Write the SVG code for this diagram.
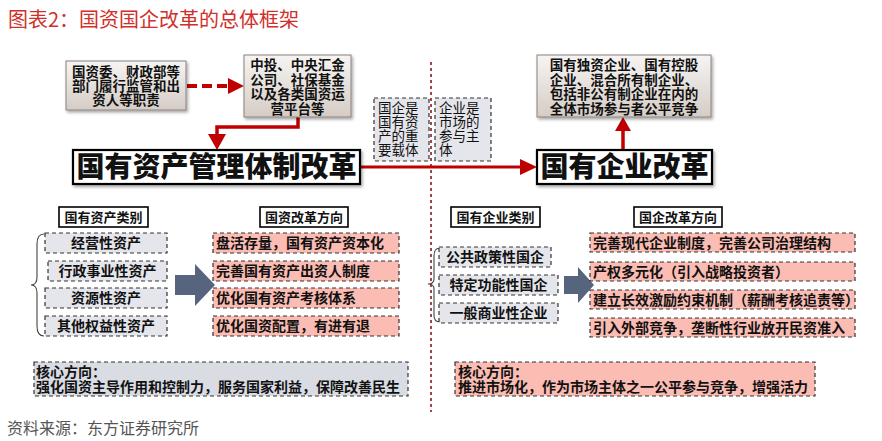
<svg xmlns="http://www.w3.org/2000/svg" width="882" height="441" viewBox="0 0 882 441">
<defs>
<linearGradient id="g" x1="0" y1="0" x2="0" y2="1"><stop offset="0" stop-color="#f6f4f2"/><stop offset="1" stop-color="#d5ccc5"/></linearGradient>
<filter id="sh" x="-10%" y="-10%" width="130%" height="140%"><feDropShadow dx="1.5" dy="2" stdDeviation="1.5" flood-color="#000" flood-opacity="0.35"/></filter>
</defs>
<style>
text{font-family:"Noto Sans CJK SC","Noto Sans",sans-serif;fill:#111}
.grad{fill:url(#g);stroke:#8a8280;stroke-width:1;filter:url(#sh)}
.main{fill:#fff;stroke:#000;stroke-width:2.2;filter:url(#sh)}
.hdr{fill:#fff;stroke:#000;stroke-width:1.6}
.gd{fill:#e5e6ec;stroke:#333;stroke-width:1.2;stroke-dasharray:4,3}
.pd{fill:#fbbcb3;stroke:#333;stroke-width:1.2;stroke-dasharray:4,3}
.it{font-size:14px;font-weight:bold}
.bx{font-size:13.5px;font-weight:bold}
.sm{font-size:13.5px}
.big{font-size:28px;font-weight:900}
.hd{font-size:13px;font-weight:bold}
.red{stroke:#c00000;fill:none}
.brace{fill:none;stroke:#444;stroke-width:1.1}
</style>
<text x="8" y="27" style="font-size:20px;fill:#d0302b">图表2：国资国企改革的总体框架</text>

<g id="connectors">
<line x1="431" y1="62" x2="431" y2="412" stroke="#a04450" stroke-width="2" stroke-dasharray="3,3"/>
<line x1="187" y1="86" x2="230" y2="86" class="red" stroke-width="4" stroke-dasharray="10,5"/>
<path d="M228,78 L244,86 L228,94 z" fill="#c00000"/>
<polyline points="298,117 298,127 217,127 217,136" class="red" stroke-width="3.5"/>
<path d="M208,134 L226,134 L217,150 z" fill="#c00000"/>
<line x1="360" y1="167" x2="522" y2="167" class="red" stroke-width="3"/>
<path d="M520,159 L537,167 L520,175 z" fill="#c00000"/>
<line x1="623" y1="150" x2="623" y2="128" class="red" stroke-width="3.5"/>
<path d="M615,131 L631,131 L623,117 z" fill="#c00000"/>
<path d="M175,275 L195,275 L195,264 L215,285 L195,306 L195,295 L175,295 z" fill="#56647e"/>
<path d="M564,276 L578,276 L578,267 L594,285 L578,303 L578,294 L564,294 z" fill="#56647e"/>
<path class="brace" d="M44,234 Q37,234 37,244 L37,277 Q37,285 31,285 Q37,285 37,293 L37,326 Q37,336 44,336"/>
<path class="brace" d="M440,248 Q434,248 434,256 L434,279 Q434,284 428,284 Q434,284 434,289 L434,315 Q434,322 440,322"/>
</g>

<g id="boxA"><rect x="66" y="61" width="120" height="49" class="grad"/>
<text class="bx" text-anchor="middle"><tspan x="126" y="77">国资委、财政部等</tspan><tspan x="126" y="91">部门履行监管和出</tspan><tspan x="126" y="105">资人等职责</tspan></text></g>

<g id="boxB"><rect x="244" y="55" width="107" height="62" class="grad"/>
<text class="bx" text-anchor="middle"><tspan x="297.5" y="70">中投、中央汇金</tspan><tspan x="297.5" y="84.5">公司、社保基金</tspan><tspan x="297.5" y="99">以及各类国资运</tspan><tspan x="297.5" y="113.5">营平台等</tspan></text></g>

<g id="boxC"><rect x="537" y="55" width="174" height="62" class="grad"/>
<text class="bx" text-anchor="middle"><tspan x="624" y="70">国有独资企业、国有控股</tspan><tspan x="624" y="84.5">企业、混合所有制企业、</tspan><tspan x="624" y="99">包括非公有制企业在内的</tspan><tspan x="624" y="113.5">全体市场参与者公平竞争</tspan></text></g>

<g id="mainL"><rect x="73" y="150" width="287" height="34" class="main"/>
<text class="big" x="216.5" y="177" text-anchor="middle">国有资产管理体制改革</text></g>
<g id="mainR"><rect x="537" y="150" width="175" height="34" class="main"/>
<text class="big" x="624.5" y="177" text-anchor="middle">国有企业改革</text></g>

<g id="noteL"><rect x="374" y="98" width="55" height="63" class="gd"/>
<text class="sm"><tspan x="378" y="113">国企是</tspan><tspan x="378" y="127">国有资</tspan><tspan x="378" y="141">产的重</tspan><tspan x="378" y="155">要载体</tspan></text></g>
<g id="noteR"><rect x="435" y="98" width="56" height="63" class="gd"/>
<text class="sm"><tspan x="439" y="113">企业是</tspan><tspan x="439" y="127">市场的</tspan><tspan x="439" y="141">参与主</tspan><tspan x="439" y="155">体</tspan></text></g>

<g id="hdr1"><rect x="59" y="207" width="89" height="20" class="hdr"/><text class="hd" x="103.5" y="222" text-anchor="middle">国有资产类别</text></g>
<g id="hdr2"><rect x="260" y="207" width="88" height="20" class="hdr"/><text class="hd" x="304" y="222" text-anchor="middle">国资改革方向</text></g>
<g id="hdr3"><rect x="451" y="207" width="89" height="20" class="hdr"/><text class="hd" x="495.5" y="222" text-anchor="middle">国有企业类别</text></g>
<g id="hdr4"><rect x="634" y="207" width="88" height="20" class="hdr"/><text class="hd" x="678" y="222" text-anchor="middle">国企改革方向</text></g>

<g id="a1"><rect x="45" y="233" width="122" height="20" class="gd"/><text class="it" x="106" y="248" text-anchor="middle">经营性资产</text></g>
<g id="a2"><rect x="48" y="261" width="119" height="20" class="gd"/><text class="it" x="107.5" y="276" text-anchor="middle">行政事业性资产</text></g>
<g id="a3"><rect x="45" y="288" width="122" height="20" class="gd"/><text class="it" x="106" y="303" text-anchor="middle">资源性资产</text></g>
<g id="a4"><rect x="45" y="316" width="122" height="20" class="gd"/><text class="it" x="106" y="331" text-anchor="middle">其他权益性资产</text></g>

<g id="d1"><rect x="213" y="233" width="186" height="20" class="pd"/><text class="it" x="216" y="248">盘活存量，国有资产资本化</text></g>
<g id="d2"><rect x="213" y="261" width="186" height="20" class="pd"/><text class="it" x="216" y="276">完善国有资产出资人制度</text></g>
<g id="d3"><rect x="213" y="288" width="186" height="20" class="pd"/><text class="it" x="216" y="303">优化国有资产考核体系</text></g>
<g id="d4"><rect x="213" y="316" width="186" height="20" class="pd"/><text class="it" x="216" y="331">优化国资配置，有进有退</text></g>

<g id="e1"><rect x="439" y="247" width="112" height="20" class="gd"/><text class="it" x="495" y="262" text-anchor="middle">公共政策性国企</text></g>
<g id="e2"><rect x="439" y="275" width="119" height="20" class="gd"/><text class="it" x="498.5" y="290" text-anchor="middle">特定功能性国企</text></g>
<g id="e3"><rect x="439" y="303" width="119" height="20" class="gd"/><text class="it" x="498.5" y="318" text-anchor="middle">一般商业性企业</text></g>

<g id="f1"><rect x="590" y="233" width="265" height="19" class="pd"/><text class="it" x="593" y="248">完善现代企业制度，完善公司治理结构</text></g>
<g id="f2"><rect x="590" y="262" width="265" height="19" class="pd"/><text class="it" x="593" y="277">产权多元化（引入战略投资者）</text></g>
<g id="f3"><rect x="590" y="290" width="265" height="19" class="pd"/><text class="it" x="593" y="305">建立长效激励约束机制（薪酬考核追责等）</text></g>
<g id="f4"><rect x="590" y="318" width="265" height="19" class="pd"/><text class="it" x="593" y="333">引入外部竞争，垄断性行业放开民资准入</text></g>

<g id="coreL"><rect x="34" y="362" width="374" height="34" style="fill:#d9dce3;stroke:#333;stroke-width:1.2;stroke-dasharray:4,3"/>
<text class="it"><tspan x="36" y="377">核心方向：</tspan><tspan x="36" y="392">强化国资主导作用和控制力，服务国家利益，保障改善民生</tspan></text></g>
<g id="coreR"><rect x="455" y="362" width="360" height="34" class="pd"/>
<text class="it"><tspan x="458" y="377">核心方向：</tspan><tspan x="458" y="392">推进市场化，作为市场主体之一公平参与竞争，增强活力</tspan></text></g>

<text x="7" y="434" style="font-size:16px;fill:#555">资料来源：东方证券研究所</text>
</svg>
